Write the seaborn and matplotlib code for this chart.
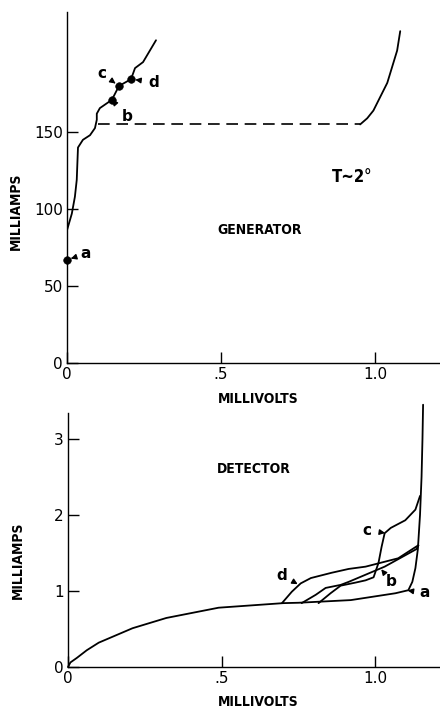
import numpy as np
import pandas as pd
import matplotlib
matplotlib.use("Agg")
import matplotlib.pyplot as plt
import seaborn as sns

# --- generator (top panel) ---
gen_mv = [0.0, 0.016, 0.026, 0.032, 0.036, 0.052, 0.075, 0.091, 0.097, 0.097,
          0.107, 0.146, 0.169, 0.208, 0.221, 0.247, 0.289]
gen_ma = [86, 97, 108, 119, 140, 145, 148, 152.6, 158, 162,
          165.6, 171, 180, 184.4, 191.6, 195.5, 209.7]
gen_dash_mv = [0.10, 0.951]
gen_dash_ma = [155, 155]
gen_right_mv = [0.951, 0.974, 0.994, 1.039, 1.071, 1.081]
gen_right_ma = [155, 159, 164, 182, 203, 215.6]
gen_pt_names = ["a", "b", "c", "d"]
gen_pt_mv = [0.0, 0.146, 0.169, 0.208]
gen_pt_ma = [67, 171, 180, 184.4]
gen_lbl_mv = [0.062, 0.195, 0.114, 0.282]
gen_lbl_ma = [71, 160, 188, 182.5]

# --- detector (bottom panel) ---
base_mv = [0.0, 0.008, 0.029, 0.061, 0.10, 0.21, 0.32, 0.49, 0.70]
base_ma = [0.0, 0.06, 0.12, 0.22, 0.32, 0.51, 0.645, 0.78, 0.84]
a_mv = [0.70, 0.75, 0.92, 1.065, 1.107, 1.12, 1.13, 1.138, 1.145, 1.15, 1.153, 1.155]
a_ma = [0.84, 0.845, 0.88, 0.97, 1.01, 1.12, 1.3, 1.55, 2.0, 2.5, 3.0, 3.45]
b_mv = [0.76, 0.806, 0.838, 0.887, 0.913, 1.03, 1.133, 1.14]
b_ma = [0.84, 0.95, 1.04, 1.08, 1.12, 1.32, 1.55, 1.6]
c_mv = [0.815, 0.854, 0.887, 0.935, 0.968, 0.994, 1.01, 1.02, 1.03, 1.05, 1.097, 1.13, 1.145]
c_ma = [0.84, 0.97, 1.07, 1.11, 1.14, 1.18, 1.37, 1.58, 1.76, 1.83, 1.93, 2.07, 2.25]
d_mv = [0.696, 0.728, 0.757, 0.79, 0.858, 0.913, 0.968, 1.074, 1.139]
d_ma = [0.84, 0.99, 1.1, 1.17, 1.24, 1.29, 1.32, 1.43, 1.6]
det_names = ["a", "b", "c", "d"]
det_head_mv = [1.10, 1.016, 1.036, 0.751]
det_head_ma = [1.01, 1.30, 1.76, 1.08]
det_lbl_mv = [1.159, 1.052, 0.971, 0.696]
det_lbl_ma = [0.974, 1.12, 1.80, 1.21]

sns.set_style("ticks")
plt.rcParams['font.family'] = ['DejaVu Sans']
for key in ['text.color', 'axes.labelcolor', 'xtick.color', 'ytick.color', 'axes.edgecolor']:
    plt.rcParams[key] = 'black'
lab_font = dict(fontsize=10, fontweight='bold', fontstretch='condensed')

fig = plt.figure(figsize=(4.4, 7.11), dpi=100)
ax1 = fig.add_axes([0.152, 0.4895, 0.848, 0.4935])
ax2 = fig.add_axes([0.1545, 0.0619, 0.8455, 0.3571])

for ax in (ax1, ax2):
    sns.despine(ax=ax)
    ax.spines['left'].set_linewidth(1.0)
    ax.spines['bottom'].set_linewidth(1.0)
    ax.tick_params(direction='in', length=8, width=1.0, labelsize=11, pad=3)
    ax.set_xlim(0, 1.21)
    ax.set_xticks([0, 0.5, 1.0])
    ax.set_xticklabels(["0", ".5", "1.0"])

# top panel
line_kw = dict(color='black', linewidth=1.3, sort=False, estimator=None)
sns.lineplot(x=gen_mv, y=gen_ma, ax=ax1, **line_kw)
sns.lineplot(x=gen_right_mv, y=gen_right_ma, ax=ax1, **line_kw)
ax1.plot(gen_dash_mv, gen_dash_ma, color='black', linewidth=1.2, dashes=(7, 4))
sns.scatterplot(x=gen_pt_mv, y=gen_pt_ma, ax=ax1, color='black', s=30,
                edgecolor='black', zorder=5, clip_on=False)
for name, px, py, lx, ly in zip(gen_pt_names, gen_pt_mv, gen_pt_ma, gen_lbl_mv, gen_lbl_ma):
    ax1.annotate(name, xy=(px, py), xytext=(lx, ly), ha='center', va='center',
                 fontsize=11, fontweight='bold',
                 arrowprops=dict(arrowstyle='-|>', color='black', lw=1.0,
                                 shrinkA=4, shrinkB=3, mutation_scale=8))
ax1.set_ylim(0, 228)
ax1.set_yticks([0, 50, 100, 150])
ax1.text(0.487, 86.4, "GENERATOR", ha='left', va='center', **lab_font)
ax1.text(0.86, 121, "T~2°", ha='left', va='center', fontsize=12,
         fontweight='bold', fontstretch='condensed')
ax1.set_xlabel("MILLIVOLTS", **lab_font)
ax1.set_ylabel("MILLIAMPS", **lab_font)
ax1.xaxis.set_label_coords(0.512, -0.083)
ax1.yaxis.set_label_coords(-0.118, 0.433)

# bottom panel
for xs, ys in [(base_mv, base_ma), (a_mv, a_ma), (b_mv, b_ma), (c_mv, c_ma), (d_mv, d_ma)]:
    sns.lineplot(x=xs, y=ys, ax=ax2, clip_on=False, **line_kw)
for name, px, py, lx, ly in zip(det_names, det_head_mv, det_head_ma, det_lbl_mv, det_lbl_ma):
    ax2.annotate(name, xy=(px, py), xytext=(lx, ly), ha='center', va='center',
                 fontsize=11, fontweight='bold',
                 arrowprops=dict(arrowstyle='-|>', color='black', lw=1.0,
                                 shrinkA=4, shrinkB=1, mutation_scale=8))
ax2.set_ylim(0, 3.34)
ax2.set_yticks([0, 1, 2, 3])
ax2.text(0.483, 2.6, "DETECTOR", ha='left', va='center', **lab_font)
ax2.set_xlabel("MILLIVOLTS", **lab_font)
ax2.set_ylabel("MILLIAMPS", **lab_font)
ax2.xaxis.set_label_coords(0.511, -0.112)
ax2.yaxis.set_label_coords(-0.116, 0.421)

fig.savefig("out.png", dpi=100)
